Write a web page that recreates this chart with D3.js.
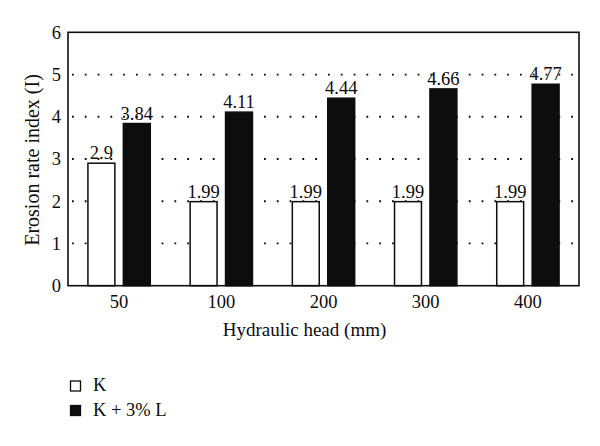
<!DOCTYPE html>
<html><head><meta charset="utf-8">
<script src="https://cdn.jsdelivr.net/npm/d3@7"></script>
<style>body{margin:0;background:#fff}svg{display:block}</style>
</head><body><svg id="c" width="600" height="446"></svg>
<script>
const categories = ["50", "100", "200", "300", "400"];
const seriesNames = ["K", "K + 3% L"];
const seriesK = [2.9, 1.99, 1.99, 1.99, 1.99];
const seriesKL = [3.84, 4.11, 4.44, 4.66, 4.77];
const labelsK = ["2.9", "1.99", "1.99", "1.99", "1.99"];
const labelsKL = ["3.84", "4.11", "4.44", "4.66", "4.77"];
const yTicks = [0, 1, 2, 3, 4, 5, 6];

const svg = d3.select("#c");
const font = "'Liberation Serif', 'DejaVu Serif', serif";
const ink = "#0d0d0d";
const L = 68, R = 579, T = 32.3, B = 285.7;

const x0 = d3.scaleBand().domain(categories).range([L, R]).paddingInner(0.39).paddingOuter(0.195);
const x1 = d3.scaleBand().domain([0, 1]).range([0, x0.bandwidth()]).paddingInner(0.24);
const y = d3.scaleLinear().domain([0, 6]).range([B, T]);

// gridlines (dotted)
svg.append("g").selectAll("line").data(yTicks.filter(d => d > 0 && d < 6)).join("line")
  .attr("x1", L + 4).attr("x2", R).attr("y1", d => y(d)).attr("y2", d => y(d))
  .attr("stroke", ink).attr("stroke-width", 1.8).attr("stroke-dasharray", "1.8,11");

const series = [seriesK, seriesKL];
const labels = [labelsK, labelsKL];
const fills = ["#fff", ink];
series.forEach((s, si) => {
  const g = svg.append("g");
  g.selectAll("rect").data(s).join("rect")
    .attr("x", (d, i) => x0(categories[i]) + x1(si))
    .attr("width", x1.bandwidth())
    .attr("y", d => y(d))
    .attr("height", d => B - y(d))
    .attr("fill", fills[si]).attr("stroke", ink).attr("stroke-width", 1.5);
  g.selectAll("text").data(s).join("text")
    .attr("x", (d, i) => x0(categories[i]) + x1(si) + x1.bandwidth() / 2)
    .attr("y", d => y(d) - 4)
    .attr("text-anchor", "middle")
    .attr("font-family", font).attr("font-size", 18.5).attr("fill", ink)
    .text((d, i) => labels[si][i]);
});

// frame
svg.append("rect").attr("x", L).attr("y", T).attr("width", R - L).attr("height", B - T)
  .attr("fill", "none").attr("stroke", ink).attr("stroke-width", 1.6);

// y axis
const ya = svg.append("g").attr("transform", `translate(${L},0)`)
  .call(d3.axisLeft(y).tickValues(yTicks).tickSize(0).tickPadding(7).tickFormat(d3.format("d")));
ya.select(".domain").remove();
ya.selectAll("text").attr("font-family", font).attr("font-size", 18.5).attr("fill", ink);

// x axis
const xa = svg.append("g").attr("transform", `translate(0,${B})`)
  .call(d3.axisBottom(x0).tickSize(0).tickPadding(9));
xa.select(".domain").remove();
xa.selectAll("text").attr("font-family", font).attr("font-size", 18.5).attr("fill", ink);

// axis titles
svg.append("text").attr("x", 304.5).attr("y", 336).attr("text-anchor", "middle")
  .attr("font-family", font).attr("font-size", 19).attr("fill", ink).text("Hydraulic head (mm)");
svg.append("text").attr("transform", "translate(38.5,160) rotate(-90)").attr("text-anchor", "middle")
  .attr("font-family", font).attr("font-size", 20).attr("fill", ink).text("Erosion rate index (I)");

// legend
const lg = svg.append("g");
seriesNames.forEach((n, i) => {
  const yy = 381 + i * 24.5;
  lg.append("rect").attr("x", 70.5).attr("y", yy).attr("width", 10).attr("height", 10)
    .attr("fill", fills[i]).attr("stroke", ink).attr("stroke-width", 1.3);
  lg.append("text").attr("x", 93).attr("y", yy + 10).attr("font-family", font).attr("font-size", 18.5)
    .attr("fill", ink).text(n);
});
</script></body></html>
